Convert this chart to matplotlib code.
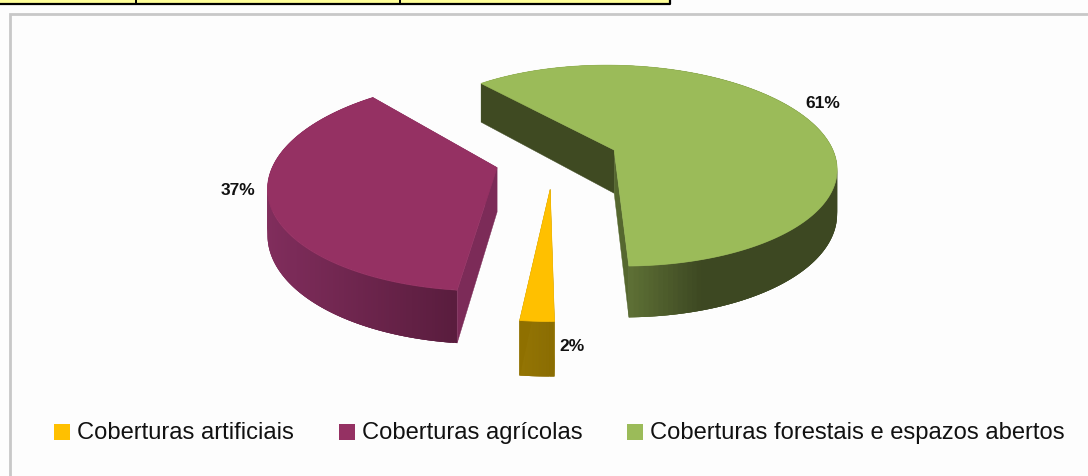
import matplotlib
matplotlib.use("Agg")
import matplotlib.pyplot as plt
import numpy as np
from matplotlib.patches import Polygon, Rectangle

# chart data
categories = ["Coberturas artificiais", "Coberturas agrícolas", "Coberturas forestais e espazos abertos"]
values = [2, 37, 61]
value_labels = ["2%", "37%", "61%"]

# styles, one per slice
top_colors = ["#FFC000", "#953163", "#9BBB59"]
start_cut_colors = ["#8F7000", "#7C2B58", "#3F4A22"]
end_cut_colors = ["#8F7000", "#7C2B58", "#55672F"]
wall_light = ["#947400", "#802D5C", "#667A3A"]
wall_dark = ["#8A6C00", "#5A1D3E", "#3D4822"]
shade_from = [519, 270, 625]
shade_to = [553, 455, 712]
nudge_x = [-3, -1, 3]
nudge_y = [3, 1.5, 1.5]
label_pos = [(572, 347), (238, 191), (823, 103)]
legend_x = [62, 347, 635]

# projection of the pie plane onto the picture, in pixels
CX, CY = 556, 159
A, B = 222, 101
K = 0.158
DEPTH = 44
EXPLODE = 0.27
START = np.radians(-1)


def project(u, v):
    w = 1 / (1 - K * v)
    return CX + A * u * w, CY + B * v * w, DEPTH * w


def lerp_color(c1, c2, t):
    a = np.array(matplotlib.colors.to_rgb(c1))
    b = np.array(matplotlib.colors.to_rgb(c2))
    return a + (b - a) * t


fig = plt.figure(figsize=(10.88, 4.77), dpi=100, facecolor="#FDFDFD")
ax = fig.add_axes([0, 0, 1, 1])
ax.set_xlim(0, 1088)
ax.set_ylim(477, 0)
ax.axis("off")

# frame of the chart panel and the table edge above it
ax.plot([10, 10, 1088], [477, 15, 15], color="#C8C8C8", lw=2, solid_joinstyle="miter")
ax.add_patch(Rectangle((0, 0), 670, 4, facecolor="#FFFF99", edgecolor="none"))
ax.plot([0, 670, 670], [4.5, 4.5, 0], color="black", lw=1.6)
for x in [136, 400]:
    ax.plot([x, x], [0, 4], color="black", lw=1.4)

# slices go clockwise on screen, starting at the front of the pie
fractions = np.array(values) / sum(values)
stops = START + np.concatenate([[0], np.cumsum(fractions)]) * 2 * np.pi

for i in [2, 1, 0]:
    th = np.linspace(stops[i], stops[i + 1], 200)
    mid = (stops[i] + stops[i + 1]) / 2
    u0 = -np.sin(mid) * EXPLODE
    v0 = np.cos(mid) * EXPLODE
    rim_x, rim_y, rim_d = project(u0 - np.sin(th), v0 + np.cos(th))
    ax_x, ax_y, ax_d = project(u0, v0)
    rim_x = rim_x + nudge_x[i]
    rim_y = rim_y + nudge_y[i]
    ax_x = ax_x + nudge_x[i]
    ax_y = ax_y + nudge_y[i]

    # outer wall as overlapping strips so no seams show, only the part facing us
    order = np.arange(len(th) - 1)
    if rim_x[-1] > rim_x[0]:
        order = order[::-1]
    for j in order:
        k = min(j + 3, len(th) - 1)
        t = np.clip((rim_x[j] - shade_from[i]) / (shade_to[i] - shade_from[i]), 0, 1)
        c = lerp_color(wall_light[i], wall_dark[i], t)
        strip = [(rim_x[j], rim_y[j]), (rim_x[k], rim_y[k]),
                 (rim_x[k], rim_y[k] + rim_d[k]), (rim_x[j], rim_y[j] + rim_d[j])]
        ax.add_patch(Polygon(strip, closed=True, facecolor=c, edgecolor="none"))

    # flat walls of the cut
    for j, color in [(0, start_cut_colors[i]), (-1, end_cut_colors[i])]:
        wall = [(ax_x, ax_y), (rim_x[j], rim_y[j]), (rim_x[j], rim_y[j] + rim_d[j]), (ax_x, ax_y + ax_d)]
        ax.add_patch(Polygon(wall, closed=True, facecolor=color, edgecolor=color, lw=0.3))

    # top face
    top = np.column_stack([np.r_[ax_x, rim_x], np.r_[ax_y, rim_y]])
    ax.add_patch(Polygon(top, closed=True, facecolor=top_colors[i], edgecolor=top_colors[i], lw=0.5))

for lab, (x, y) in zip(value_labels, label_pos):
    ax.text(x, y, lab, fontsize=12.5, fontweight="bold", family="Liberation Sans",
            ha="center", va="center", color="#111111")

# legend
for name, color, x in zip(categories, top_colors, legend_x):
    ax.scatter([x], [433], marker="s", s=125, color=color, linewidths=0)
    ax.text(x + 15, 433, name, fontsize=17.1, family="Liberation Sans", ha="left", va="center", color="#111111")

fig.savefig("out.png", dpi=100, facecolor=fig.get_facecolor())
plt.close(fig)
